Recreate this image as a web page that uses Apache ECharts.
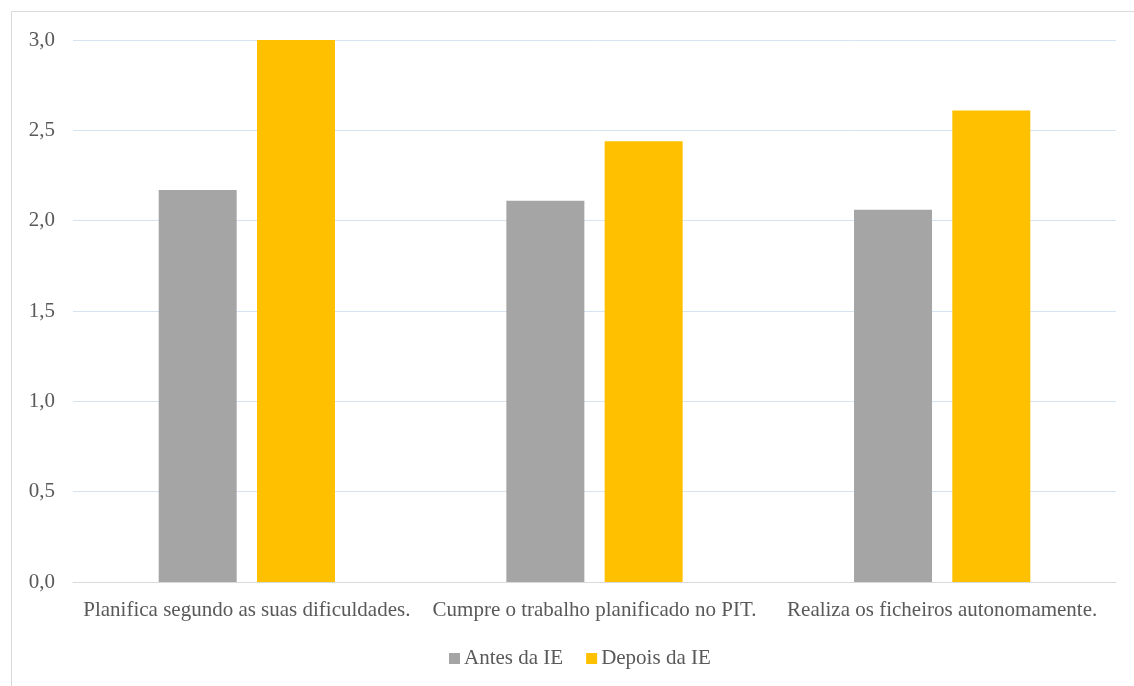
<!DOCTYPE html>
<html><head><meta charset="utf-8">
<script src="https://cdn.jsdelivr.net/npm/echarts@6/dist/echarts.min.js"></script>
<style>html,body{margin:0;padding:0;background:#fff}#c{width:1134px;height:686px}</style>
</head><body><div id="c"></div>
<script>
const categories = ["Planifica segundo as suas dificuldades.", "Cumpre o trabalho planificado no PIT.", "Realiza os ficheiros autonomamente."];
const antes = [2.17, 2.11, 2.06];
const depois = [3.0, 2.44, 2.61];
const seriesNames = ["Antes da IE", "Depois da IE"];
const font = "'Liberation Serif', 'Times New Roman', serif";
const chart = echarts.init(document.getElementById('c'), null, {renderer: 'canvas'});
chart.setOption({
  animation: false,
  backgroundColor: '#fff',
  graphic: [{type: 'rect', shape: {x: 11.5, y: 11.5, width: 1140, height: 690}, style: {fill: 'none', stroke: '#d9d9d9', lineWidth: 1}, z: 100}],
  grid: {left: 73, right: 18, top: 40, bottom: 104, containLabel: false},
  legend: {
    top: 643, left: 444, itemWidth: 11, itemHeight: 11, itemGap: 23,
    icon: 'rect',
    textStyle: {fontFamily: font, fontSize: 21, color: '#595959', padding: [0, 0, 0, -1]},
    data: seriesNames
  },
  xAxis: {
    type: 'category', data: categories,
    axisLine: {lineStyle: {color: '#d9d9d9', width: 1}},
    axisTick: {show: false},
    axisLabel: {fontFamily: font, fontSize: 21, color: '#595959', margin: 18, interval: 0}
  },
  yAxis: {
    type: 'value', min: 0, max: 3, interval: 0.5,
    axisLine: {show: false}, axisTick: {show: false},
    splitLine: {lineStyle: {color: '#d6e3f1', width: 1}},
    axisLabel: {fontFamily: font, fontSize: 21, color: '#595959', margin: 18,
      formatter: v => v.toFixed(1).replace('.', ',')}
  },
  series: [
    {name: seriesNames[0], type: 'bar', data: antes, barWidth: 78, barGap: '26%', itemStyle: {color: '#a5a5a5'}},
    {name: seriesNames[1], type: 'bar', data: depois, barWidth: 78, itemStyle: {color: '#ffc000'}}
  ]
});
</script></body></html>
